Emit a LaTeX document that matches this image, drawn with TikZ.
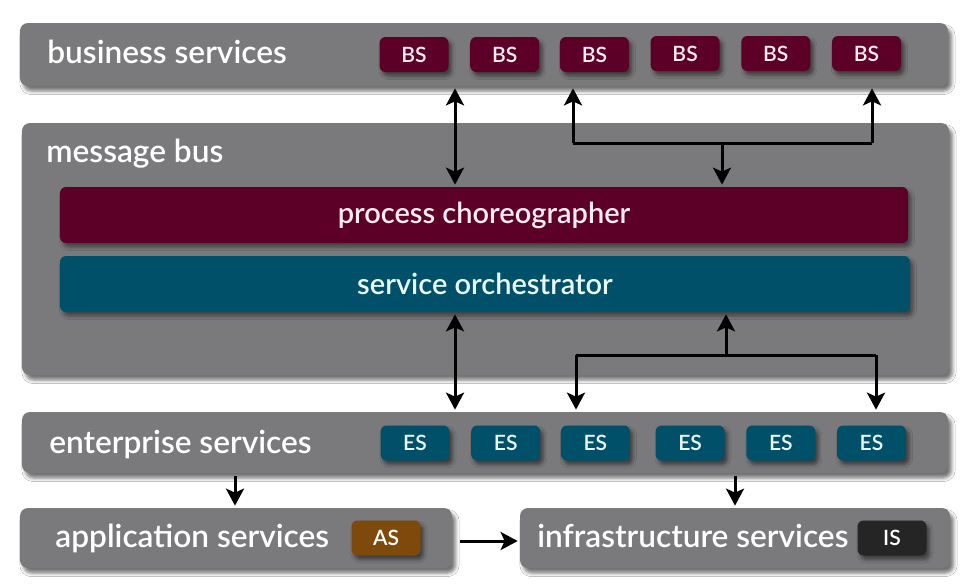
\documentclass[tikz,border=0pt]{standalone}
\usepackage{fontspec}
\setmainfont{Lato}[UprightFont={* Semibold}]
\usetikzlibrary{positioning, arrows.meta, shadows.blur}

\definecolor{barGray}{HTML}{7A7A7C}
\definecolor{bsRed}{HTML}{5C0027}
\definecolor{esTeal}{HTML}{00506A}
\definecolor{asBrown}{HTML}{7D4A0C}
\definecolor{isDark}{HTML}{252525}
\definecolor{redText}{HTML}{F8ECF2}
\definecolor{tealText}{HTML}{EAF8FA}

\tikzset{
    layerBar/.style={fill=barGray, rounded corners=1.6mm, inner sep=0pt,
        blur shadow={shadow xshift=0.7mm, shadow yshift=-1mm, shadow opacity=55}},
    innerBar/.style={rounded corners=1.2mm, inner sep=0pt, minimum height=11.2mm,
        font=\fontsize{16.5}{20}\selectfont,
        blur shadow={shadow xshift=0.6mm, shadow yshift=-0.8mm, shadow opacity=45}},
    tile/.style={rounded corners=1.2mm, inner sep=0pt, minimum width=13.8mm, minimum height=7mm,
        font=\fontsize{12}{14}\selectfont,
        blur shadow={shadow xshift=0.6mm, shadow yshift=-0.8mm, shadow opacity=50}},
    bsTile/.style={tile, fill=bsRed, text=redText},
    esTile/.style={tile, fill=esTeal, text=tealText},
    barLabel/.style={anchor=base west, inner sep=0pt, text=white, font=\fontsize{18}{22}\selectfont},
    arr/.style={line width=0.6mm, -{Stealth[length=3.4mm, width=3.6mm, inset=0.8mm]}, shorten >=0.4mm},
    biArr/.style={line width=0.6mm, {Stealth[length=3.4mm, width=3.6mm, inset=0.8mm]}-{Stealth[length=3.4mm, width=3.6mm, inset=0.8mm]},
        shorten >=0.4mm, shorten <=0.4mm},
    plain/.style={line width=0.6mm}
}

\begin{document}
\begin{tikzpicture}[x=0.2mm, y=-0.2mm, node distance=4.2mm]
    \useasboundingbox[fill=white] (0,0) rectangle (970,586);

    % layers
    \node[layerBar, minimum width=185.6mm, minimum height=12.6mm] (bsBar) at (484,54.5) {};
    \node[layerBar, minimum width=185.4mm, minimum height=50.4mm] (busBar) at (485.5,249) {};
    \node[layerBar, minimum width=185.2mm, minimum height=12.2mm] (esBar) at (485,442.5) {};
    \node[layerBar, minimum width=86.4mm, minimum height=12mm] (appBar) at (236,538) {};
    \node[layerBar, minimum width=86mm, minimum height=12mm] (infBar) at (735,538) {};

    \node[barLabel] (bsLabel) at (47,63) {business services};
    \node[barLabel] (busLabel) at (46,162) {message bus};
    \node[barLabel] (esLabel) at (49,453) {enterprise services};
    \node[barLabel] (appLabel) at (55,547) {application services};
    \node[barLabel] (infLabel) at (537,547) {infrastructure services};

    % message bus inside
    \node[innerBar, fill=bsRed, text=redText, minimum width=169.6mm] (choreo) at (484,215) {process choreographer};
    \node[innerBar, fill=esTeal, text=tealText, minimum width=170mm] (orch) at (485,284) {service orchestrator};

    % business services
    \node[bsTile] (bs1) at (414,54.5) {BS};
    \node[bsTile, right = 4.2mm of bs1] (bs2) {BS};
    \node[bsTile, right = 4mm of bs2] (bs3) {BS};
    \node[bsTile, right = 4.2mm of bs3, yshift=0.2mm] (bs4) {BS};
    \node[bsTile, right = 4.2mm of bs4] (bs5) {BS};
    \node[bsTile, right = 4.2mm of bs5] (bs6) {BS};

    % enterprise services
    \node[esTile] (es1) at (415,443) {ES};
    \node[esTile, right = 4.2mm of es1] (es2) {ES};
    \node[esTile, right = 4mm of es2] (es3) {ES};
    \node[esTile, right = 5mm of es3] (es4) {ES};
    \node[esTile, right = 4.2mm of es4] (es5) {ES};
    \node[esTile, right = 4.2mm of es5] (es6) {ES};

    \node[tile, fill=asBrown, text=white] (as) at (386,538) {AS};
    \node[tile, fill=isDark, text=white] (is) at (892,538) {IS};

    % connectors
    \coordinate (upJoin) at (722,143);
    \coordinate (lowJoin) at (726,355);

    \draw[biArr] (bsBar.south -| 455,0) -- (choreo.north -| 455,0);
    \draw[plain] (573,143) -- (872,143);
    \draw[arr] (573,143) -- (bsBar.south -| 573,0);
    \draw[arr] (872,143) -- (bsBar.south -| 872,0);
    \draw[arr] (upJoin) -- (choreo.north -| upJoin);

    \draw[biArr] (orch.south -| 455,0) -- (esBar.north -| 455,0);
    \draw[plain] (576,355) -- (876,355);
    \draw[arr] (576,355) -- (esBar.north -| 576,0);
    \draw[arr] (876,355) -- (esBar.north -| 876,0);
    \draw[arr] (lowJoin) -- (orch.south -| lowJoin);

    \draw[arr, shorten <=0.6mm] (esBar.south -| 235,0) -- (appBar.north -| 235,0);
    \draw[arr, shorten <=0.6mm] (esBar.south -| 735,0) -- (infBar.north -| 735,0);
    \draw[arr, shorten <=1.6mm] ([yshift=-0.6mm]appBar.east) -- ([yshift=-0.6mm]infBar.west);
\end{tikzpicture}
\end{document}
